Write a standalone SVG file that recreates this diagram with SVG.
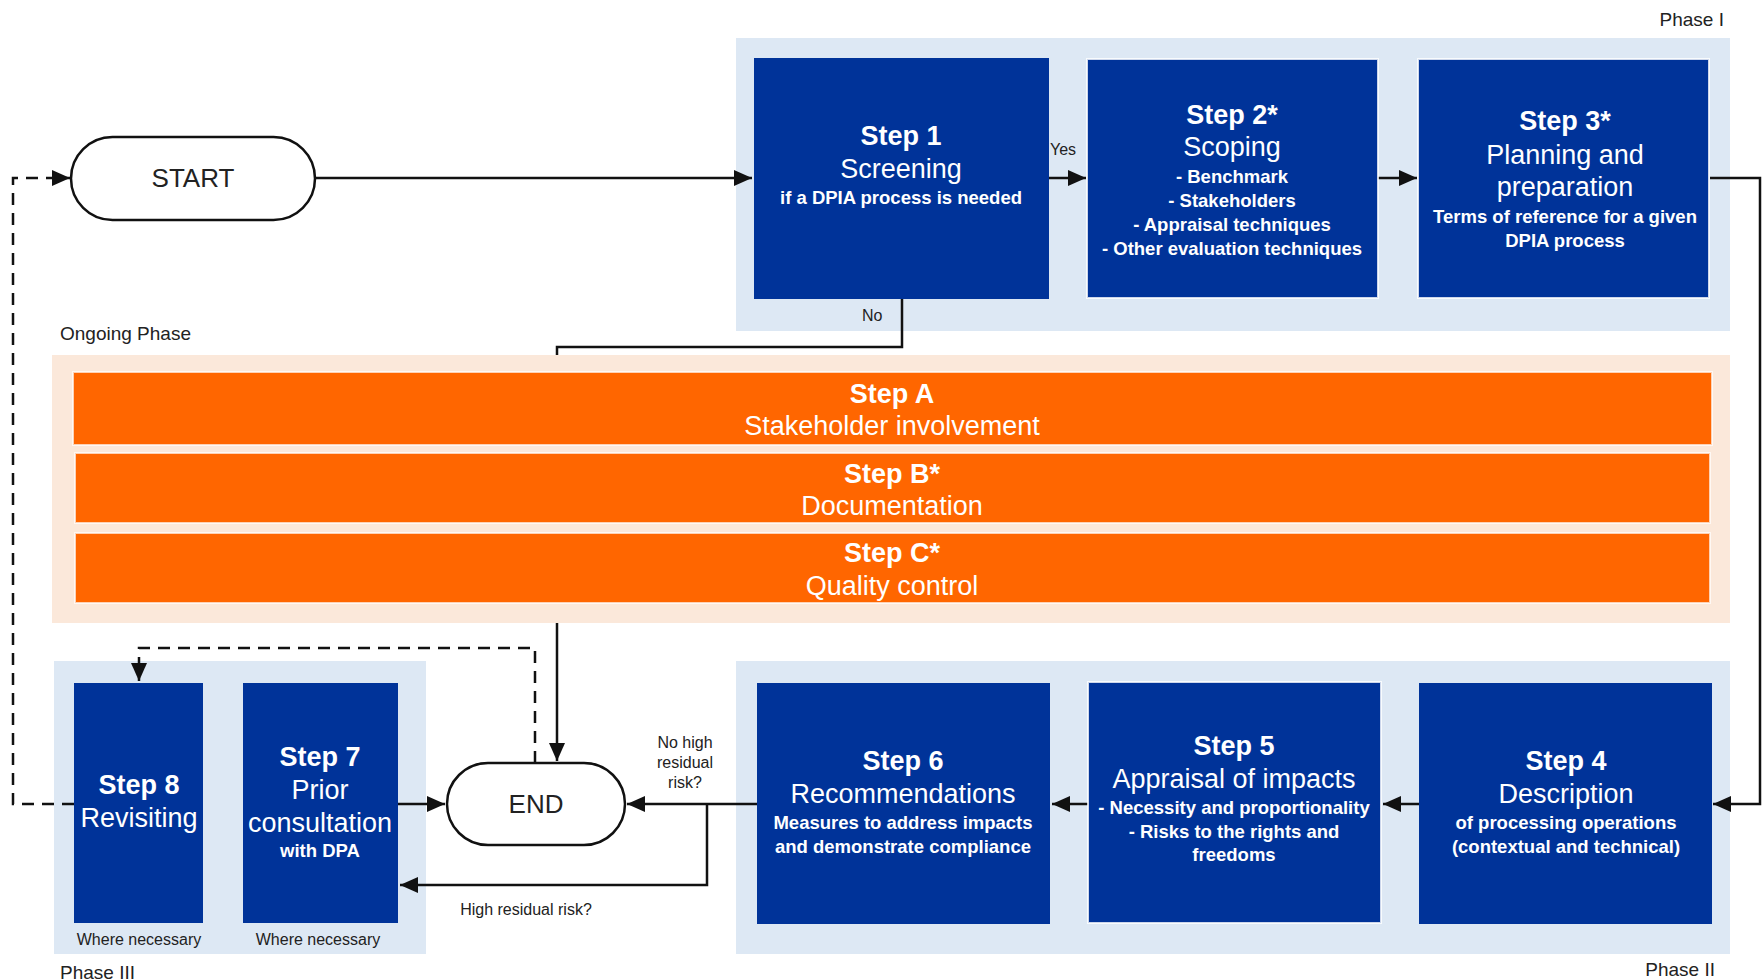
<svg xmlns="http://www.w3.org/2000/svg" width="1763" height="980" viewBox="0 0 1763 980">
<style>
.phase{fill:#dde8f4}
.ongoing{fill:#fbe8da}
.box{fill:#003399}
.boxw{fill:#003399;stroke:#ffffff;stroke-width:2;stroke-opacity:0.8}
.bar{fill:#ff6600;stroke:#ffffff;stroke-width:2;stroke-opacity:0.7}
.pill{fill:#ffffff;stroke:#111;stroke-width:2.5}
text{font-family:"Liberation Sans",Arial,sans-serif}
.t{fill:#fff;font-size:27px;text-anchor:middle}
.tb{fill:#fff;font-size:27px;font-weight:bold;text-anchor:middle}
.s{fill:#fff;font-size:18.5px;font-weight:bold;text-anchor:middle}
.lbl{fill:#222;font-size:16px}
.ph{fill:#222;font-size:19px}
.term{fill:#222;font-size:26px;text-anchor:middle}
.c{fill:none;stroke:#111;stroke-width:2.5}
.d{fill:none;stroke:#111;stroke-width:2.5;stroke-dasharray:12 8}
</style>
<defs>
<marker id="ah" viewBox="0 0 18 16" refX="18" refY="8" markerWidth="18" markerHeight="16" markerUnits="userSpaceOnUse" orient="auto">
<path d="M0,0 L18,8 L0,16 Z" fill="#111"/>
</marker>
</defs>
<rect width="1763" height="980" fill="#ffffff"/>

<g id="phase1-bg"><rect class="phase" x="736" y="38" width="994" height="293"/></g>
<g id="phase2-bg"><rect class="phase" x="736" y="661" width="994" height="293"/></g>
<g id="phase3-bg"><rect class="phase" x="54" y="661" width="372" height="293"/></g>

<g id="connectors">
<path class="c" d="M315,178 H752" marker-end="url(#ah)"/>
<path class="c" d="M1048,178 H1086" marker-end="url(#ah)"/>
<path class="c" d="M1378,178 H1417" marker-end="url(#ah)"/>
<path class="c" d="M1710,178 H1760 V804 H1713" marker-end="url(#ah)"/>
<path class="c" d="M1419,804 H1383" marker-end="url(#ah)"/>
<path class="c" d="M1088,804 H1052" marker-end="url(#ah)"/>
<path class="c" d="M757,804 H627" marker-end="url(#ah)"/>
<path class="c" d="M707,804 V885 H400" marker-end="url(#ah)"/>
<path class="c" d="M398,804 H445" marker-end="url(#ah)"/>
<path class="c" d="M902,299 V347 H557 V761" marker-end="url(#ah)"/>
<path class="d" d="M535,763 V648 H139 V681" marker-end="url(#ah)"/>
<path class="d" d="M74,804 H13 V178 H70" marker-end="url(#ah)"/>
<text class="lbl" x="1050" y="155">Yes</text>
<text class="lbl" x="862" y="321">No</text>
<text class="lbl" x="685" y="747.5" text-anchor="middle">No high</text>
<text class="lbl" x="685" y="767.5" text-anchor="middle">residual</text>
<text class="lbl" x="685" y="787.5" text-anchor="middle">risk?</text>
<text class="lbl" x="526" y="915" text-anchor="middle">High residual risk?</text>
</g>

<g id="labels">
<text class="ph" x="1724" y="26" text-anchor="end">Phase I</text>
<text class="ph" x="60" y="340">Ongoing Phase</text>
<text class="ph" x="1715" y="976" text-anchor="end">Phase II</text>
<text class="ph" x="60" y="979">Phase III</text>
</g>

<g id="start">
<rect class="pill" x="71" y="137" width="244" height="83" rx="41.5"/>
<text class="term" x="193" y="187">START</text>
</g>

<g id="end">
<rect class="pill" x="447" y="763" width="178" height="82" rx="41"/>
<text class="term" x="536" y="813">END</text>
</g>

<g id="step1">
<rect class="box" x="754" y="58" width="295" height="241"/>
<text class="tb" x="901" y="145">Step 1</text>
<text class="t" x="901" y="178">Screening</text>
<text class="s" x="901" y="203.5">if a DPIA process is needed</text>
</g>

<g id="step2">
<rect class="boxw" x="1087" y="59" width="291" height="239"/>
<text class="tb" x="1232" y="123.5">Step 2*</text>
<text class="t" x="1232" y="155.5">Scoping</text>
<text class="s" x="1232" y="182.5">- Benchmark</text>
<text class="s" x="1232" y="206.5">- Stakeholders</text>
<text class="s" x="1232" y="230.5">- Appraisal techniques</text>
<text class="s" x="1232" y="254.5">- Other evaluation techniques</text>
</g>

<g id="step3">
<rect class="boxw" x="1418" y="59" width="291" height="239"/>
<text class="tb" x="1565" y="130">Step 3*</text>
<text class="t" x="1565" y="163.5">Planning and</text>
<text class="t" x="1565" y="196">preparation</text>
<text class="s" x="1565" y="222.5">Terms of reference for a given</text>
<text class="s" x="1565" y="246.5">DPIA process</text>
</g>

<g id="ongoing">
<rect class="ongoing" x="52" y="355" width="1678" height="268"/>
<g id="stepA">
<rect class="bar" x="73" y="372" width="1639" height="73"/>
<text class="tb" x="892" y="402.5">Step A</text>
<text class="t" x="892" y="435">Stakeholder involvement</text>
</g>
<g id="stepB">
<rect class="bar" x="75" y="453" width="1635" height="70"/>
<text class="tb" x="892" y="482.5">Step B*</text>
<text class="t" x="892" y="514.5">Documentation</text>
</g>
<g id="stepC">
<rect class="bar" x="75" y="533" width="1635" height="70"/>
<text class="tb" x="892" y="561.5">Step C*</text>
<text class="t" x="892" y="594.5">Quality control</text>
</g>
</g>

<g id="step4">
<rect class="box" x="1419" y="683" width="293" height="241"/>
<text class="tb" x="1566" y="769.5">Step 4</text>
<text class="t" x="1566" y="802.5">Description</text>
<text class="s" x="1566" y="828.5">of processing operations</text>
<text class="s" x="1566" y="852.5">(contextual and technical)</text>
</g>

<g id="step5">
<rect class="boxw" x="1088" y="682" width="293" height="241"/>
<text class="tb" x="1234" y="755">Step 5</text>
<text class="t" x="1234" y="787.5">Appraisal of impacts</text>
<text class="s" x="1234" y="813.5">- Necessity and proportionality</text>
<text class="s" x="1234" y="837.5">- Risks to the rights and</text>
<text class="s" x="1234" y="861">freedoms</text>
</g>

<g id="step6">
<rect class="box" x="757" y="683" width="293" height="241"/>
<text class="tb" x="903" y="769.5">Step 6</text>
<text class="t" x="903" y="802.5">Recommendations</text>
<text class="s" x="903" y="828.5">Measures to address impacts</text>
<text class="s" x="903" y="852.5">and demonstrate compliance</text>
</g>

<g id="step7">
<rect class="box" x="243" y="683" width="155" height="240"/>
<text class="tb" x="320" y="765.5">Step 7</text>
<text class="t" x="320" y="798.5">Prior</text>
<text class="t" x="320" y="831.5">consultation</text>
<text class="s" x="320" y="856.5">with DPA</text>
<text class="lbl" x="318" y="944.5" text-anchor="middle">Where necessary</text>
</g>

<g id="step8">
<rect class="box" x="74" y="683" width="129" height="240"/>
<text class="tb" x="139" y="793.5">Step 8</text>
<text class="t" x="139" y="826.5">Revisiting</text>
<text class="lbl" x="139" y="944.5" text-anchor="middle">Where necessary</text>
</g>
</svg>
